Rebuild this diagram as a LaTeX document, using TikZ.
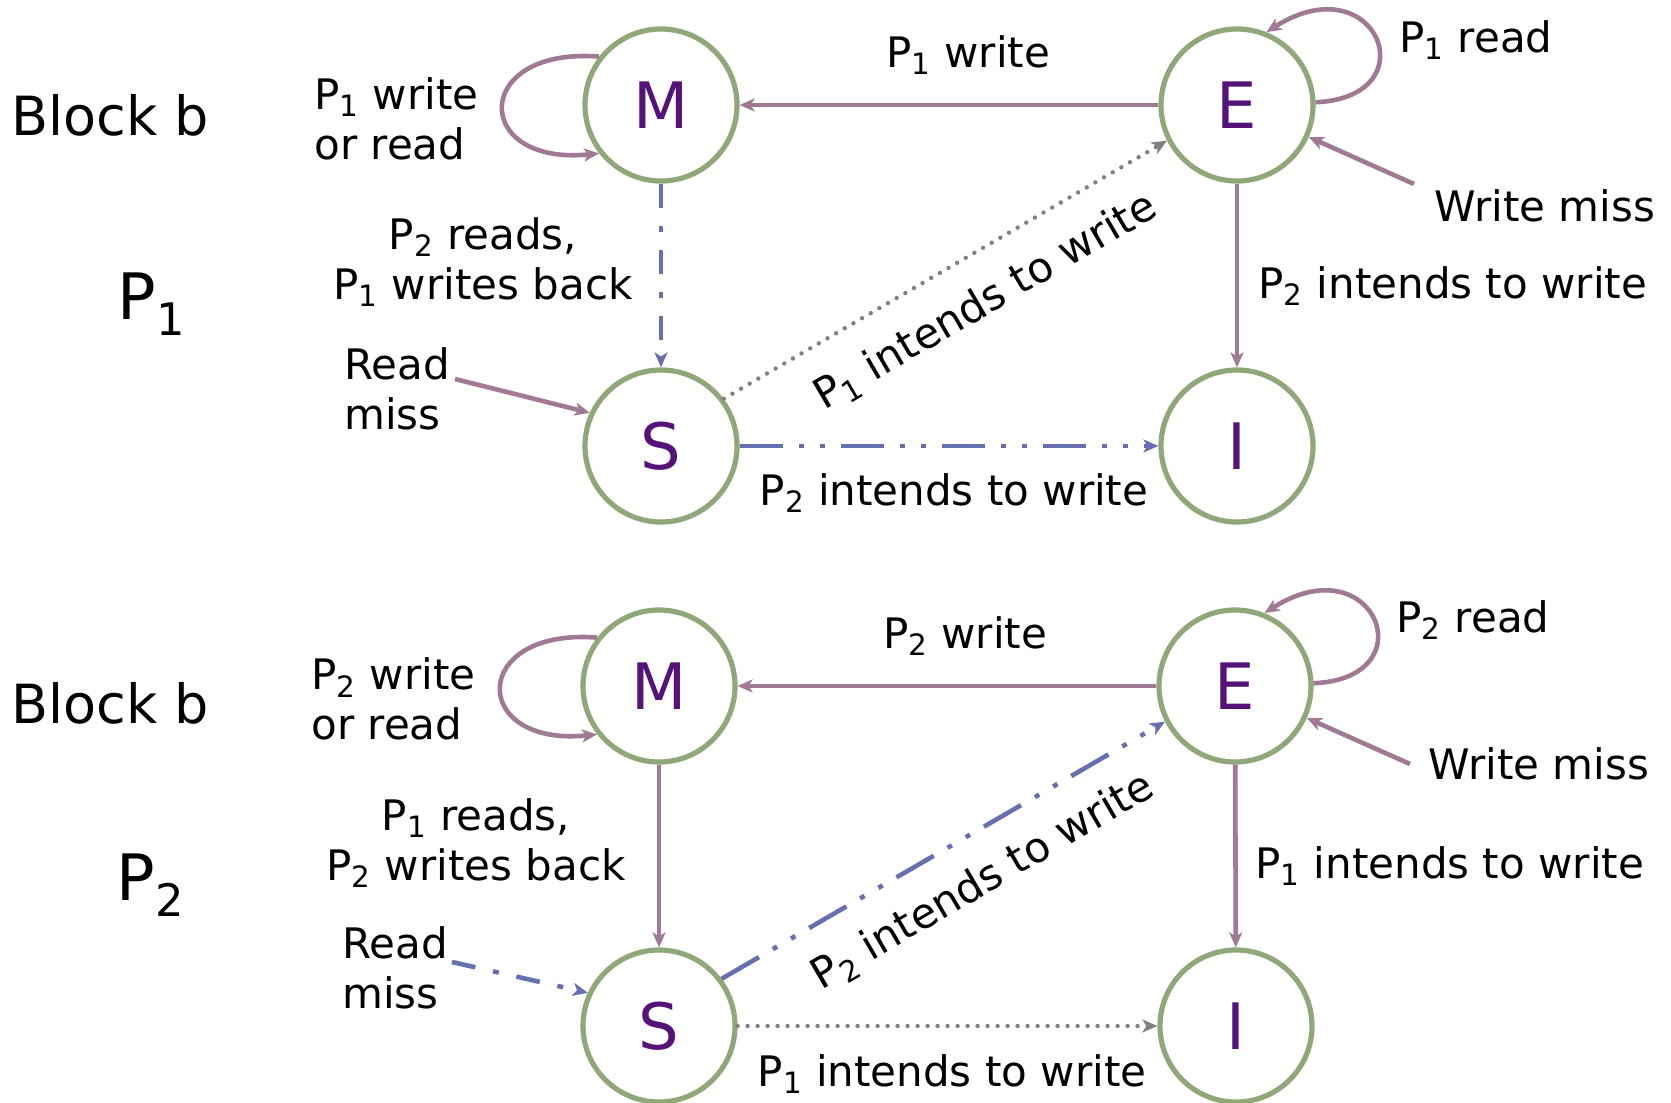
\documentclass[tikz,border=0pt]{standalone}
\usepackage{fontspec}
\setmainfont{DejaVu Sans}
\usetikzlibrary{arrows.meta}

\definecolor{stategreen}{RGB}{143,168,122}
\definecolor{statepurple}{RGB}{85,18,120}
\definecolor{edgemauve}{RGB}{160,122,148}
\definecolor{edgeblue}{RGB}{102,112,176}
\definecolor{edgegray}{RGB}{128,128,128}

\newcommand{\proc}[1]{P\textsubscript{#1}}

\begin{document}
\begin{tikzpicture}[x=0.5pt,y=-0.5pt]
    \tikzstyle{cstate} = [circle, draw=stategreen, line width=2.6pt, minimum size=76pt, inner sep=0pt, text=statepurple, font=\fontsize{32}{38}\selectfont]
    \tikzstyle{lbl} = [inner sep=0pt, font=\fontsize{21}{25}\selectfont]
    \tikzstyle{big} = [inner sep=0pt, anchor=west, font=\fontsize{27}{32}\selectfont]
    \tikzstyle{arrow} = [line width=2.3pt, ->, >={Stealth[length=7.5pt,width=6.5pt,inset=2pt]}]
    \tikzstyle{solidarrow} = [arrow, draw=edgemauve]
    \tikzstyle{dashdot} = [arrow, draw=edgeblue, dash pattern=on 12pt off 9pt on 3pt off 9pt]
    \tikzstyle{dashdotdot} = [arrow, draw=edgeblue, dash pattern=on 21.5pt off 8pt on 2.5pt off 8pt on 2.5pt off 8pt]
    \tikzstyle{dotarrow} = [arrow, draw=edgegray, line width=2.2pt, line cap=round, dash pattern=on 0pt off 5pt]

    \useasboundingbox (0,0) rectangle (1671,1103);

    % ---------- processor 1 ----------
    \node (mA) [cstate] at (661,105) {M};
    \node (eA) [cstate] at (1237,105) {E};
    \node (sA) [cstate] at (661,446) {S};
    \node (iA) [cstate] at (1237,446) {I};
    \coordinate (wmA) at (1414,184);
    \coordinate (rmA) at (455,379);

    \node (blockA) [big] at (11,115) {Block b};
    \node (procA) [inner sep=0pt, font=\fontsize{32}{38}\selectfont] at (152,304) {\proc{1}};

    \node (lmA) [lbl, anchor=west, align=left] at (314,119) {\proc{1} write\\or read};
    \node (lemA) [lbl] at (968,55) {\proc{1} write};
    \node (leA) [lbl, anchor=west] at (1399,40) {\proc{1} read};
    \node (lwmA) [lbl, anchor=west] at (1434,206) {Write miss};
    \node (leiA) [lbl, anchor=west] at (1258,286) {\proc{2} intends to write};
    \node (lmsA) [lbl, align=center] at (483,262) {\proc{2} reads,\\\proc{1} writes back};
    \node (lrmA) [lbl, anchor=west, align=left] at (344,389) {Read\\miss};
    \node (lseA) [lbl, rotate=30.3] at (986,302) {\proc{1} intends to write};
    \node (lsiA) [lbl] at (954,493) {\proc{2} intends to write};

    \draw [solidarrow] (mA.142) .. controls +(-128,-10) and +(-128,13) .. (mA.218);
    \draw [solidarrow] (eA.2) .. controls +(115,-5) and +(110,-70) .. (eA.68);
    \draw [solidarrow] (eA) -- (mA);
    \draw [solidarrow] (wmA) -- (eA);
    \draw [solidarrow] (eA) -- (iA);
    \draw [dashdot] (mA) -- (sA);
    \draw [solidarrow] (rmA) -- (sA.155);
    \draw [dotarrow] (sA.37) -- (eA.207);
    \draw [dashdotdot] (sA) -- (iA);

    % ---------- processor 2 ----------
    \node (mB) [cstate] at (659,686) {M};
    \node (eB) [cstate] at (1235,686) {E};
    \node (sB) [cstate] at (659,1026) {S};
    \node (iB) [cstate] at (1236,1026) {I};
    \coordinate (wmB) at (1410,764);
    \coordinate (rmB) at (452,962);

    \node (blockB) [big] at (11,703) {Block b};
    \node (procB) [inner sep=0pt, font=\fontsize{32}{38}\selectfont] at (151,885) {\proc{2}};

    \node (lmB) [lbl, anchor=west, align=left] at (311,699) {\proc{2} write\\or read};
    \node (lemB) [lbl] at (965,636) {\proc{2} write};
    \node (leB) [lbl, anchor=west] at (1396,620) {\proc{2} read};
    \node (lwmB) [lbl, anchor=west] at (1428,764) {Write miss};
    \node (leiB) [lbl, anchor=west] at (1255,866) {\proc{1} intends to write};
    \node (lmsB) [lbl, align=center] at (476,843) {\proc{1} reads,\\\proc{2} writes back};
    \node (lrmB) [lbl, anchor=west, align=left] at (342,968) {Read\\miss};
    \node (lseB) [lbl, rotate=30.3] at (983,882) {\proc{2} intends to write};
    \node (lsiB) [lbl] at (952,1074) {\proc{1} intends to write};

    \draw [solidarrow] (mB.142) .. controls +(-128,-10) and +(-128,13) .. (mB.218);
    \draw [solidarrow] (eB.2) .. controls +(115,-5) and +(110,-70) .. (eB.68);
    \draw [solidarrow] (eB) -- (mB);
    \draw [solidarrow] (wmB) -- (eB);
    \draw [solidarrow] (eB) -- (iB);
    \draw [solidarrow] (mB) -- (sB);
    \draw [dashdot] (rmB) -- (sB.155);
    \draw [dashdotdot] (sB.37) -- (eB.207);
    \draw [dotarrow] (sB) -- (iB);
\end{tikzpicture}
\end{document}
